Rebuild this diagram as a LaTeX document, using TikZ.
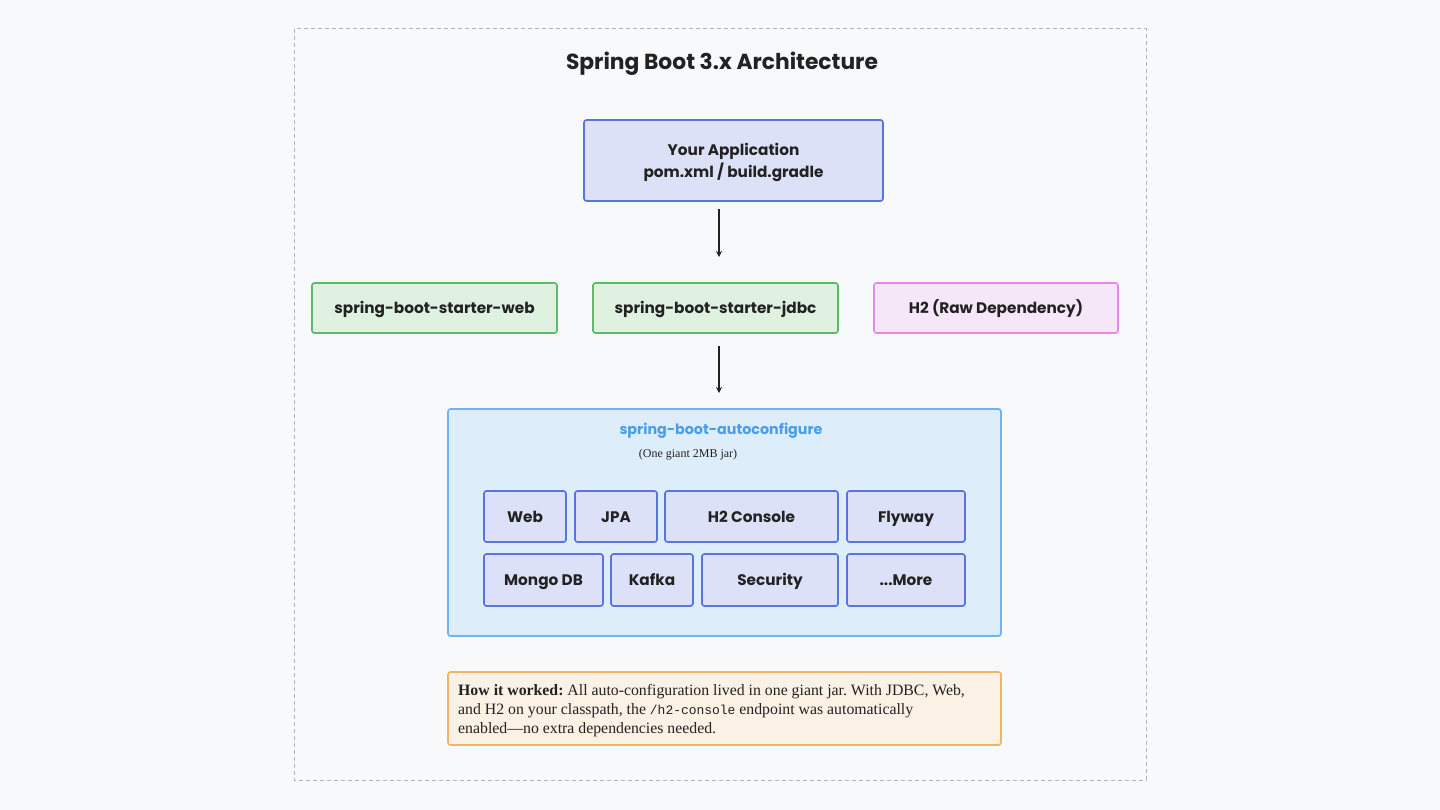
\documentclass[tikz,border=0pt]{standalone}
\usepackage{fontspec}
\setmainfont{Liberation Serif}
\setmonofont[Scale=0.82]{Liberation Mono}
\newfontfamily\hand{Poppins}
\usetikzlibrary{arrows.meta}
\frenchspacing
\definecolor{bgc}{HTML}{F8F9FB}
\definecolor{framec}{HTML}{B4B4B8}
\definecolor{appfill}{HTML}{DDE1F8}
\definecolor{appdraw}{HTML}{5B72E3}
\definecolor{grfill}{HTML}{DFF1E1}
\definecolor{grdraw}{HTML}{5DBB68}
\definecolor{pkfill}{HTML}{F6E7F8}
\definecolor{pkdraw}{HTML}{E68AEA}
\definecolor{aufill}{HTML}{DDEDFA}
\definecolor{audraw}{HTML}{6CB4F2}
\definecolor{autext}{HTML}{4A9DEA}
\definecolor{ntfill}{HTML}{FBF1E4}
\definecolor{ntdraw}{HTML}{F3B462}
\definecolor{txt}{HTML}{222222}
\tikzset{
  px/.style={x=1pt,y=-1pt},
  boxbase/.style={rounded corners=2.5pt, line width=1.6pt},
  appbox/.style={boxbase, fill=appfill, draw=appdraw},
  greenbox/.style={boxbase, fill=grfill, draw=grdraw},
  pinkbox/.style={boxbase, fill=pkfill, draw=pkdraw},
  autobox/.style={boxbase, fill=aufill, draw=audraw},
  notebox/.style={boxbase, fill=ntfill, draw=ntdraw},
  lbl/.style={font=\hand\bfseries\fontsize{15.3}{18}\selectfont, text=txt, align=center, text height=0.72em, text depth=0.22em, yshift=-3pt},
  conn/.style={-{Stealth[length=6pt,width=6pt]}, line width=1.2pt, draw=txt},
}
\begin{document}
\begin{tikzpicture}[px]
\useasboundingbox (0,0) rectangle (1440,810);
\fill[bgc] (0,0) rectangle (1440,810);
% frame
\draw[framec, line width=1pt, dash pattern=on 4pt off 3pt] (294,29) rectangle (1146,780);
% title
\node[lbl, font=\hand\bfseries\fontsize{21.8}{26}\selectfont, yshift=-3pt] (title) at (722,61) {Spring Boot 3.x Architecture};
% app
\draw[appbox] (584,120) rectangle (883,201);
\node[font=\hand\bfseries\fontsize{15.3}{22}\selectfont, text=txt, align=center] (app) at (733.5,162.5) {Your Application\\pom.xml / build.gradle};
\coordinate (appb) at (719,209);
\coordinate (rowt) at (719,257);
\draw[conn] (appb) -- (rowt);
% row 2
\draw[greenbox] (312,283) rectangle (557,333);
\node[lbl] (web) at (434.5,308) {spring-boot-starter-web};
\draw[greenbox] (593,283) rectangle (838,333);
\node[lbl] (jdbc) at (715.5,308) {spring-boot-starter-jdbc};
\draw[pinkbox] (874,283) rectangle (1118,333);
\node[lbl] (h2) at (996,308) {H2 (Raw Dependency)};
\coordinate (rowb) at (719,346);
\coordinate (autot) at (719,393);
\draw[conn] (rowb) -- (autot);
% autoconfigure
\draw[autobox] (448,409) rectangle (1001,636);
\node[lbl, text=autext, font=\hand\bfseries\fontsize{14.3}{18}\selectfont] (autotitle) at (721,429) {spring-boot-autoconfigure};
\node[font=\fontsize{12}{14}\selectfont, text=txt] (autosub) at (688,455) {(One giant 2MB jar)};
% inner row 1
\draw[appbox] (484,491) rectangle (566,542);
\node[lbl] (iweb) at (525,516.5) {Web};
\draw[appbox] (575,491) rectangle (657,542);
\node[lbl] (ijpa) at (616,516.5) {JPA};
\draw[appbox] (665,491) rectangle (838,542);
\node[lbl] (ih2) at (751.5,516.5) {H2 Console};
\draw[appbox] (847,491) rectangle (965,542);
\node[lbl] (ifly) at (906,516.5) {Flyway};
% inner row 2
\draw[appbox] (484,554) rectangle (603,606);
\node[lbl] (imongo) at (543.5,580) {Mongo DB};
\draw[appbox] (611,554) rectangle (693,606);
\node[lbl] (ikafka) at (652,580) {Kafka};
\draw[appbox] (702,554) rectangle (838,606);
\node[lbl] (isec) at (770,580) {Security};
\draw[appbox] (847,554) rectangle (965,606);
\node[lbl] (imore) at (906,580) {...More};
% note
\draw[notebox] (448,672) rectangle (1001,745);
\node[anchor=north west, align=left, text=txt, font=\fontsize{15.8}{19}\selectfont, inner sep=0pt] (note) at (458,684)
{\textbf{How it worked:} All auto-configuration lived in one giant jar. With JDBC, Web,\\
and H2 on your classpath, the \texttt{/h2-console} endpoint was automatically\\
enabled---no extra dependencies needed.};
\end{tikzpicture}
\end{document}
